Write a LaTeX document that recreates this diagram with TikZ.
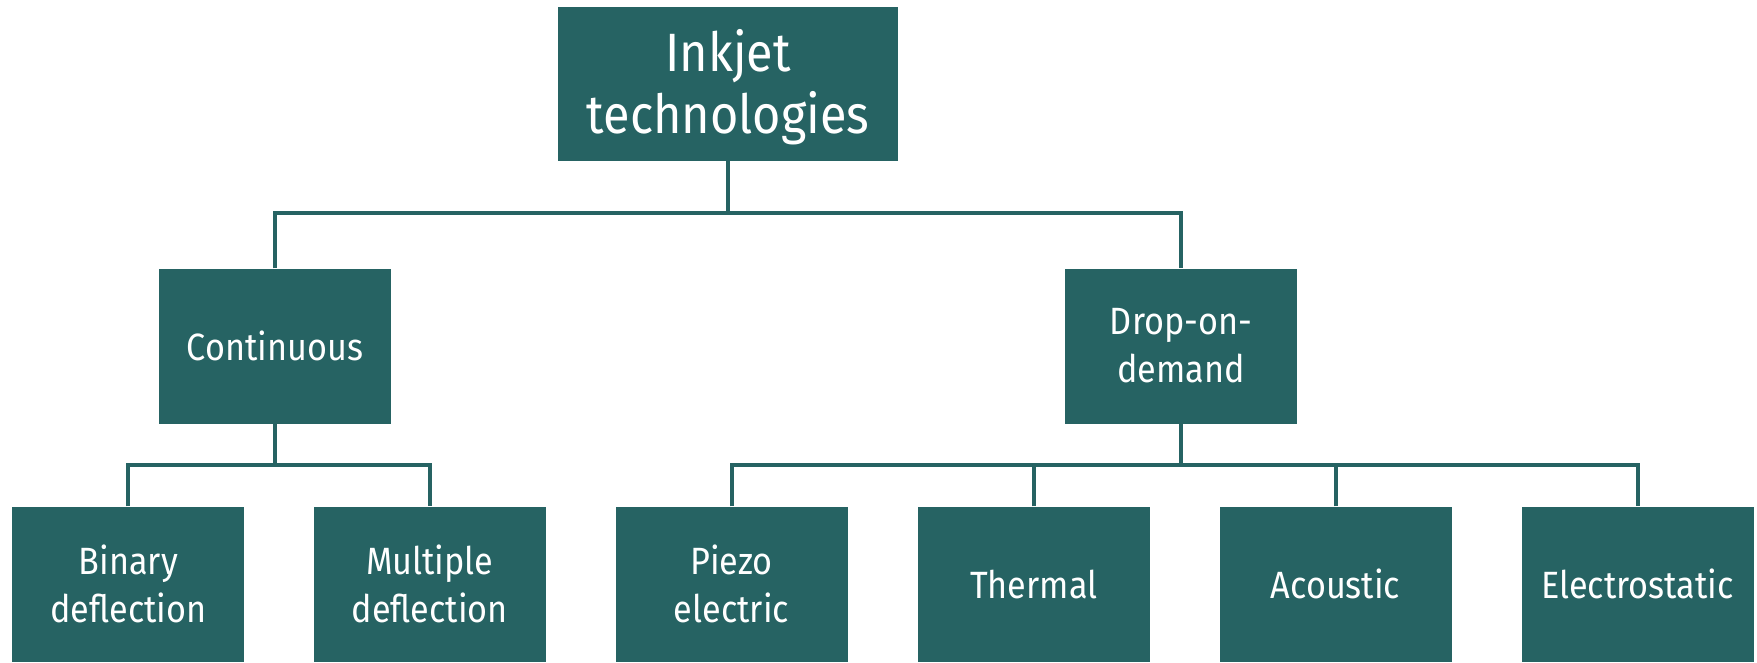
\documentclass[tikz,border=0pt]{standalone}
\usepackage{fontspec}
\setmainfont{Fira Sans}[FakeStretch=0.9]
\definecolor{tealbox}{HTML}{266363}
\begin{document}
\begin{tikzpicture}[x=1pt,y=-1pt,
  box/.style={fill=tealbox, text=white, inner sep=0pt, minimum width=232pt, minimum height=155pt, align=center, font=\fontsize{38}{48}\selectfont},
  conn/.style={draw=tealbox, line width=4pt}]
\useasboundingbox (0,0) rectangle (1757,662);
\node[box, minimum width=340pt, minimum height=154pt] (root) at (728,83.5) {};
\node[text=white, align=center, inner sep=0pt, font=\fontsize{54}{62}\selectfont] (roottext) at (728,87) {Inkjet\\technologies};
\node[box] (cont) at (275,346) {Continuous};
\node[box] (dod) at (1181,346) {Drop-on-\\demand};
\node[box] (bin) at (128.3,584) {Binary\\deflection};
\node[box] (mul) at (429.7,584) {Multiple\\deflection};
\node[box] (pie) at (731.5,584) {Piezo\\electric};
\node[box] (the) at (1033.7,584) {Thermal};
\node[box] (aco) at (1335.5,584) {Acoustic};
\node[box] (ele) at (1637.6,584) {Electrostatic};
\coordinate (j1) at (728,213);
\coordinate (j2) at (275,465);
\coordinate (j3) at (1181,465);
\draw[conn] (root.south) -- (j1);
\draw[conn] (cont.north) |- (j1) -| (dod.north);
\draw[conn] (cont.south) -- (j2);
\draw[conn] (bin.north) |- (j2) -| (mul.north);
\draw[conn] (dod.south) -- (j3);
\draw[conn] (pie.north) |- (j3) -| (ele.north);
\draw[conn] (the.north) -- (the.north |- j3);
\draw[conn] (aco.north) -- (aco.north |- j3);
\end{tikzpicture}
\end{document}
